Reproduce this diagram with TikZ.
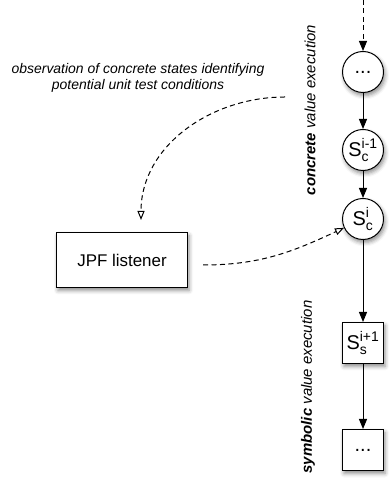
\documentclass[tikz,border=0pt]{standalone}
\usepackage{fontspec}
\setmainfont{Liberation Sans}
\usetikzlibrary{arrows.meta,shadows.blur}

\newcommand{\subfnt}{\fontsize{14}{14}\selectfont}
\newcommand{\stname}[2]{S$^{\hbox{\subfnt #1}}_{\hbox{\subfnt #2}}$}

\begin{document}
\begin{tikzpicture}[x=1bp,y=1bp, line width=1bp,
    shadowed/.style={fill=white, blur shadow={shadow xshift=1.5bp, shadow yshift=-3bp, shadow blur radius=4bp, shadow opacity=45}},
    state/.style={circle, draw, shadowed, minimum size=41bp, inner sep=0pt, font=\fontsize{20}{20}\selectfont},
    symstate/.style={rectangle, draw, shadowed, minimum size=41bp, inner sep=0pt, font=\fontsize{20}{20}\selectfont},
    listener/.style={rectangle, draw, shadowed, minimum width=131bp, minimum height=55bp, font=\fontsize{17}{17}\selectfont},
    flow/.style={-{Triangle[length=10bp,width=8bp]}},
    observe/.style={dash pattern=on 5bp off 3.5bp, -{Triangle[open,length=9bp,width=7bp]}},
    phase/.style={rotate=90, font=\fontsize{15}{15}\selectfont\itshape}
  ]

    % Fix the picture size
    \useasboundingbox (0,0) rectangle (389,478);

    % Define the free ends of the dashed connectors
    \coordinate (in) at (363,478);
    \coordinate (obsstart) at (285,381);
    \coordinate (obsend) at (141,258);
    \coordinate (lisout) at (203,213);

    % Concrete states
    \node[state] (prev) at (363,406) {...};
    \node[state] (cim1) at (363,328) {\stname{i-1}{c}};
    \node[state] (ci) at (363,259) {\stname{i}{c}};

    % Symbolic states
    \node[symstate] (si1) at (363,135) {\stname{i+1}{s}};
    \node[symstate] (snext) at (363,28) {...};

    % Listener
    \node[listener] (jpf) at (122,218) {JPF listener};

    % Draw the execution path
    \draw[flow, dash pattern=on 5bp off 3.5bp] (in) -- (prev);
    \draw[flow] (prev) -- (cim1);
    \draw[flow] (cim1) -- (ci);
    \draw[flow] (ci) -- (si1);
    \draw[flow] (si1) -- (snext);

    % Draw the observation connectors
    \draw[observe] (obsstart) to[out=180, in=90] (obsend);
    \draw[observe] (lisout) to[out=0, in=205] (ci);

    % Add the phase labels
    \node[phase] (conc) at (310,368) {\textbf{concrete} value execution};
    \node[phase] (symb) at (308,91) {\textbf{symbolic} value execution};

    % Add the note
    \node[align=center, font=\fontsize{14}{16}\selectfont\itshape] (note) at (138,400)
      {observation of concrete states identifying\\potential unit test conditions};

\end{tikzpicture}
\end{document}
